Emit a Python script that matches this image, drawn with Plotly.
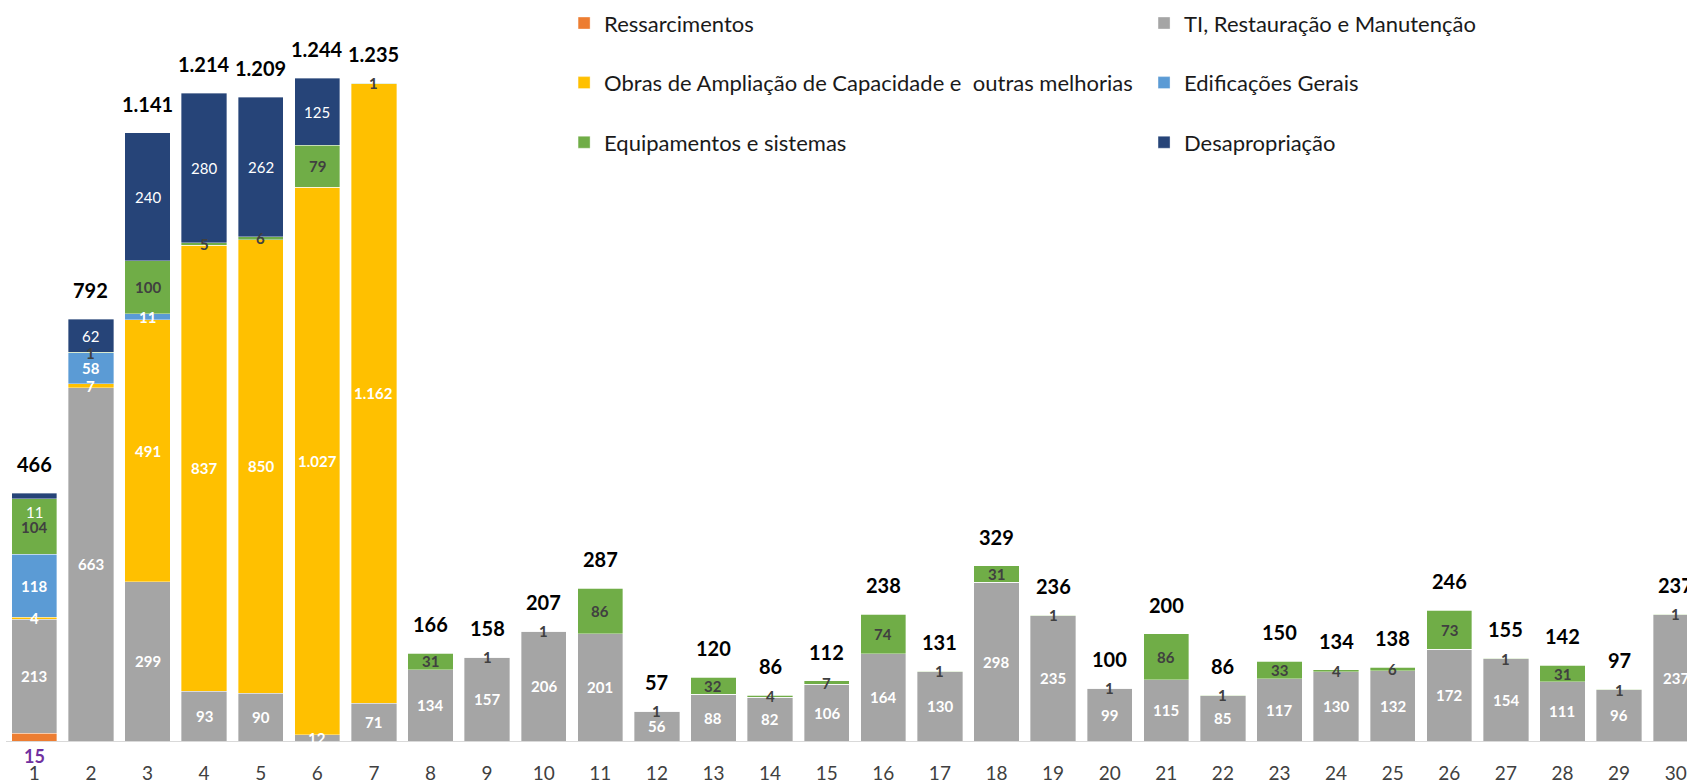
import plotly.graph_objects as go

categories = list(range(1, 31))
tick_labels = [str(c) for c in categories]

ressarcimentos = [15] + [0] * 29
ti = [213, 663, 299, 93, 90, 12, 71, 134, 157, 206, 201, 56, 88, 82, 106,
      164, 130, 298, 235, 99, 115, 85, 117, 130, 132, 172, 154, 111, 96, 237]
obras = [4, 7, 491, 837, 850, 1027, 1162] + [0] * 23
edificacoes = [118, 58, 11] + [0] * 27
equipamentos = [104, 1, 100, 5, 6, 79, 1, 31, 1, 1, 86, 1, 32, 4, 7,
                74, 1, 31, 1, 1, 86, 1, 33, 4, 6, 73, 1, 31, 1, 1]
desapropriacao = [11, 62, 240, 280, 262, 125] + [0] * 24
totals = [466, 792, 1141, 1214, 1209, 1244, 1235, 166, 158, 207, 287, 57, 120, 86, 112,
          238, 131, 329, 236, 100, 200, 86, 150, 134, 138, 246, 155, 142, 97, 237]

FONT = "Lato"

def fmt(v):
    return f"{v:,}".replace(",", ".")

series = [
    ("Ressarcimentos", ressarcimentos, "#ED7D31", "legend", "#7030A0", True),
    ("TI, Restauração e Manutenção", ti, "#A5A5A5", "legend2", "white", True),
    ("Obras de Ampliação de Capacidade e  outras melhorias", obras, "#FFC000", "legend", "white", True),
    ("Edificações Gerais", edificacoes, "#5B9BD5", "legend2", "white", True),
    ("Equipamentos e sistemas", equipamentos, "#70AD47", "legend", "#404040", True),
    ("Desapropriação", desapropriacao, "#264478", "legend2", "white", False),
]

fig = go.Figure()
annotations = []
base = [0] * len(categories)
for idx, (name, vals, color, leg, lblcolor, bold) in enumerate(series):
    fig.add_trace(go.Bar(
        x=categories, y=vals, name=name,
        marker=dict(color=color, line=dict(color="rgba(255,255,255,0.6)", width=0.6)),
        legend=leg, legendgroup=f"g{idx}",
    ))
    for i, v in enumerate(vals):
        if v > 0:
            if name == "Ressarcimentos":
                annotations.append(dict(x=categories[i], y=0, yshift=-15, text=f"<b>{fmt(v)}</b>",
                                        showarrow=False, font=dict(family=FONT, size=18, color=lblcolor)))
            else:
                ys = -16 if (name == "Desapropriação" and i == 0) else 0
                t = f"<b>{fmt(v)}</b>" if bold else fmt(v)
                annotations.append(dict(x=categories[i], y=base[i] + v / 2, yshift=ys, text=t,
                                        showarrow=False, font=dict(family=FONT, size=15, color=lblcolor)))
        base[i] += v

for i, t in enumerate(totals):
    annotations.append(dict(x=categories[i], y=base[i], yshift=29, text=f"<b>{fmt(t)}</b>",
                            showarrow=False, font=dict(family=FONT, size=20, color="black")))

fig.update_layout(
    width=1687, height=784,
    barmode="stack", bargap=0.2,
    plot_bgcolor="white", paper_bgcolor="white",
    margin=dict(l=6, r=0, t=0, b=36),
    font=dict(family=FONT),
    annotations=annotations,
    xaxis=dict(range=[0.5, 30.2], tickvals=categories, ticktext=tick_labels,
               showline=True, linecolor="#D9D9D9", linewidth=1, showgrid=False, zeroline=False,
               tickfont=dict(family=FONT, size=19, color="#404040"), ticklabelstandoff=15),
    yaxis=dict(range=[0, 1390], visible=False, showgrid=False),
    legend=dict(x=0.332, y=0.997, xanchor="left", yanchor="top", orientation="v",
                traceorder="grouped", tracegroupgap=28, bgcolor="rgba(0,0,0,0)",
                font=dict(family=FONT, size=22, color="#1a1a1a")),
    legend2=dict(x=0.677, y=0.997, xanchor="left", yanchor="top", orientation="v",
                 traceorder="grouped", tracegroupgap=28, bgcolor="rgba(0,0,0,0)",
                 font=dict(family=FONT, size=22, color="#1a1a1a")),
    showlegend=True,
)

fig.write_html("out.html", config={"displayModeBar": False},
               post_script="document.body.style.margin='0px';")
